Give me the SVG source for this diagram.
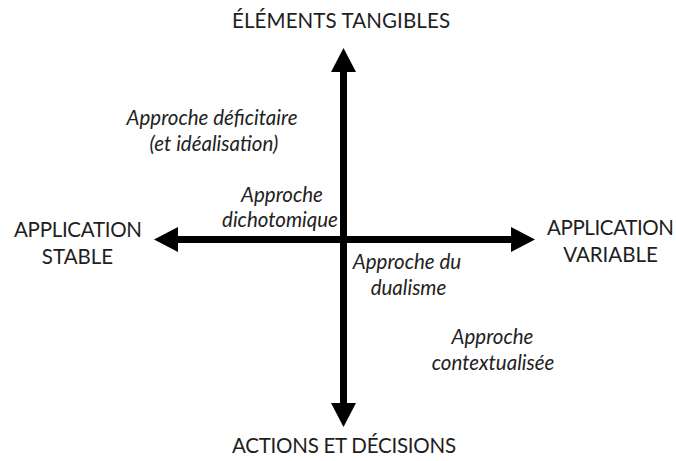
<svg xmlns="http://www.w3.org/2000/svg" width="676" height="461" viewBox="0 0 676 461">
  <style>
    .axis { font-family: Lato, "Open Sans", "Liberation Sans", sans-serif; font-size: 20.5px; fill: #1e1e1e; text-anchor: middle; }
    .approach { font-family: Lato, "Open Sans", "Liberation Sans", sans-serif; font-size: 20.5px; font-style: italic; fill: #222; text-anchor: middle; }
    .arrow { stroke: #000; stroke-width: 7; fill: none; }
  </style>
  <defs>
    <marker id="head" viewBox="0 0 24 25" refX="1" refY="12.5" markerWidth="24" markerHeight="25" markerUnits="userSpaceOnUse" orient="auto-start-reverse">
      <path d="M0,0 L24,12.5 L0,25 Z" fill="#000"/>
    </marker>
  </defs>
  <rect width="676" height="461" fill="#fff"/>

  <!-- axes -->
  <g id="connectors">
    <path class="arrow" d="M343.5,71 V404" marker-start="url(#head)" marker-end="url(#head)"/>
    <path class="arrow" d="M177,239.5 H512" marker-start="url(#head)" marker-end="url(#head)"/>
  </g>

  <!-- axis poles -->
  <g id="tangibles">
    <text class="axis" x="341" y="27.5" textLength="218">ÉLÉMENTS TANGIBLES</text>
  </g>
  <g id="actions">
    <text class="axis" x="344" y="453" textLength="224">ACTIONS ET DÉCISIONS</text>
  </g>
  <g id="stable">
    <text class="axis" x="78" y="236.5" textLength="128">APPLICATION</text>
    <text class="axis" x="77.5" y="264">STABLE</text>
  </g>
  <g id="variable">
    <text class="axis" x="610.5" y="234.5" textLength="127">APPLICATION</text>
    <text class="axis" x="610.5" y="262">VARIABLE</text>
  </g>

  <!-- approaches -->
  <g id="deficitaire">
    <text class="approach" x="212" y="125">Approche déficitaire</text>
    <text class="approach" x="214" y="150.5">(et idéalisation)</text>
  </g>
  <g id="dichotomique">
    <text class="approach" x="282" y="201.5">Approche</text>
    <text class="approach" x="280" y="227">dichotomique</text>
  </g>
  <g id="dualisme">
    <text class="approach" x="407" y="268.5">Approche du</text>
    <text class="approach" x="408.5" y="295">dualisme</text>
  </g>
  <g id="contextualisee">
    <text class="approach" x="492.5" y="344">Approche</text>
    <text class="approach" x="493" y="370">contextualisée</text>
  </g>
</svg>
